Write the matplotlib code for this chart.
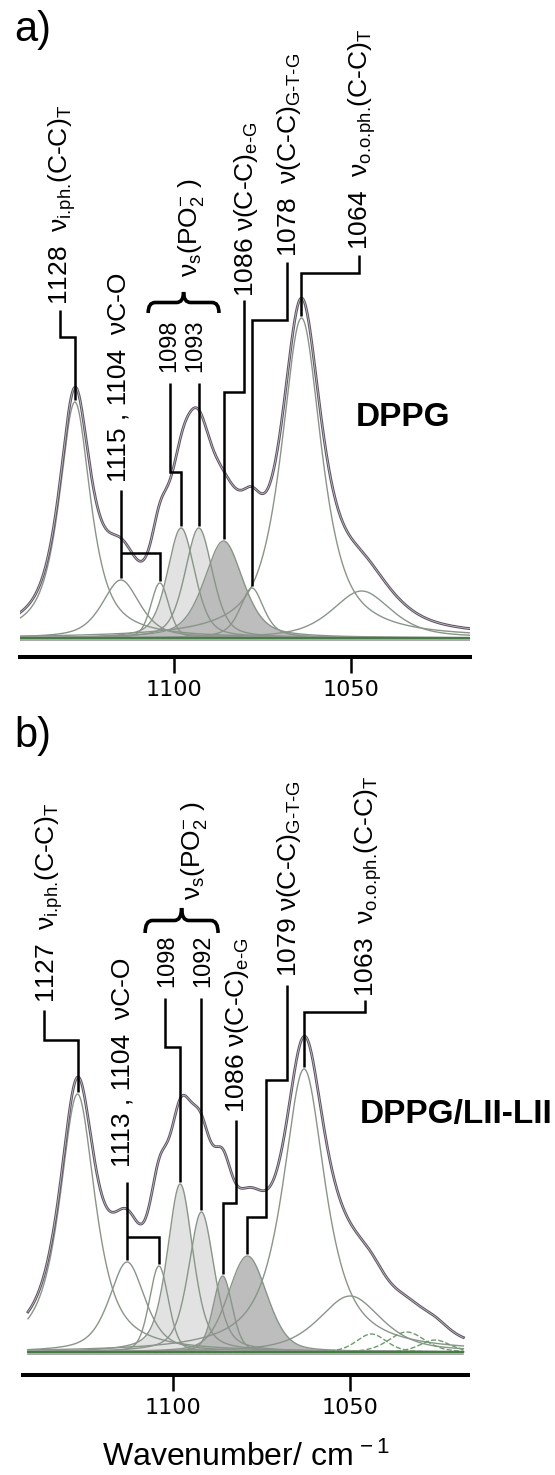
import numpy as np
import matplotlib
matplotlib.use('Agg')
import matplotlib.pyplot as plt
from matplotlib.path import Path
from matplotlib.patches import PathPatch

plt.rcParams['font.family'] = ['Liberation Sans', 'DejaVu Sans']
plt.rcParams['mathtext.fontset'] = 'custom'
plt.rcParams['mathtext.rm'] = 'Liberation Sans'
plt.rcParams['mathtext.it'] = 'Liberation Sans:italic'
plt.rcParams['mathtext.bf'] = 'Liberation Sans:bold'

# fitted bands, panel a (DPPG)
centers_a = [1128, 1115, 1104, 1098, 1093, 1086, 1078, 1064, 1047]
heights_a = [236, 58, 55, 110, 110, 97, 50, 320, 47]
hwhm_a = [5.3, 6.3, 3.0, 4.6, 4.6, 6.5, 4.0, 6.8, 10.0]
lorentz_a = [0.8, 0.6, 0.3, 0.45, 0.45, 0.5, 0.6, 0.8, 0.6]

# fitted bands, panel b (DPPG/LII-LII)
centers_b = [1127, 1113, 1104, 1098, 1092, 1086, 1079, 1063, 1050, 1044, 1034, 1026]
heights_b = [258, 90, 86, 168, 140, 76, 96, 283, 56, 18, 20, 12]
hwhm_b = [6.0, 6.0, 3.2, 4.3, 4.3, 3.2, 6.5, 7.2, 10.5, 5.0, 6.0, 5.0]
lorentz_b = [0.8, 0.6, 0.3, 0.5, 0.5, 0.3, 0.3, 0.85, 0.6, 0.3, 0.3, 0.3]

ticks = [1100, 1050]
labels_a = ['1128  ν$_{\\text{i.ph.}}$(C-C)$_{\\text{T}}$',
            '1115 , 1104  νC-O',
            '1098', '1093',
            'ν$_{\\text{s}}$(PO$_2^{-}$ )',
            '1086 ν(C-C)$_{\\text{e-G}}$',
            '1078  ν(C-C)$_{\\text{G-T-G}}$',
            '1064  ν$_{\\text{o.o.ph.}}$(C-C)$_{\\text{T}}$']
labels_b = ['1127  ν$_{\\text{i.ph.}}$(C-C)$_{\\text{T}}$',
            '1113 , 1104  νC-O',
            '1098', '1092',
            'ν$_{\\text{s}}$(PO$_2^{-}$ )',
            '1086 ν(C-C)$_{\\text{e-G}}$',
            '1079 ν(C-C)$_{\\text{G-T-G}}$',
            '1063  ν$_{\\text{o.o.ph.}}$(C-C)$_{\\text{T}}$']

W, H = 555, 1475
LINE = '#8a958a'
LIGHT = '#e2e2e2'
DARK = '#bababa'


def band(x, c, h, w, eta):
    u = ((x - c) / w) ** 2
    return h * (eta / (1 + u) + (1 - eta) * np.exp(-np.log(2) * u))


def brace(ax, xl, xr, yb, yt):
    ym = (yb + yt) / 2
    xs = lambda t: xl + t * (xr - xl)
    verts = [(xs(0), yb), (xs(0), ym), (xs(0.1), ym), (xs(0.4), ym),
             (xs(0.5), ym), (xs(0.5), yt), (xs(0.5), ym), (xs(0.6), ym),
             (xs(0.9), ym), (xs(1), ym), (xs(1), yb)]
    codes = [Path.MOVETO, Path.CURVE3, Path.CURVE3, Path.LINETO,
             Path.CURVE3, Path.CURVE3, Path.CURVE3, Path.CURVE3,
             Path.LINETO, Path.CURVE3, Path.CURVE3]
    ax.add_patch(PathPatch(Path(verts, codes), fill=False, lw=2.6, color='black',
                           clip_on=False, zorder=6))


def panel(ax, x, centers, heights, widths, etas, light, dark, dashed):
    comps = {}
    for c, h, w, e in zip(centers, heights, widths, etas):
        comps[c] = band(x, c, h, w, e)
    total = sum(comps.values())

    for c in light:
        ax.fill_between(x, 0, comps[c], color=LIGHT, lw=0, zorder=1)
    for c in dark:
        ax.fill_between(x, 0, comps[c], color=DARK, lw=0, alpha=0.95, zorder=2)
    for c, y in comps.items():
        if c in dashed:
            ax.plot(x, y, color='#6f9a6f', lw=1.0, ls='--', zorder=3)
        else:
            ax.plot(x, y, color=LINE, lw=1.0, zorder=3)
    ax.plot(x, np.zeros_like(x) - 1.5, color='#9a9a9a', lw=1.2, zorder=3)
    ax.plot(x, np.zeros_like(x), color='#3d7a3d', lw=1.3, zorder=3)
    ax.plot(x, total, color='#5e5662', lw=2.0, zorder=4)
    ax.plot(x, total, color='#cfc6d2', lw=0.5, zorder=4)

    for s in ['top', 'left', 'right']:
        ax.spines[s].set_visible(False)
    ax.spines['bottom'].set_linewidth(2.9)
    ax.set_yticks([])
    ax.set_xticks(ticks)
    ax.tick_params(axis='x', direction='out', length=11.5, width=1.8,
                   labelsize=16, pad=5)
    for t in ax.get_xticklabels():
        t.set_fontfamily('DejaVu Sans')
    ax.patch.set_alpha(0)
    return comps


def leaders(ax, heights_by_c, paths):
    for peak, pts in paths:
        end = (peak, heights_by_c[peak] + 2)
        xs = [p[0] for p in pts] + [end[0]]
        ys = [p[1] for p in pts] + [end[1]]
        ax.plot(xs, ys, color='black', lw=1.8, solid_capstyle='butt',
                solid_joinstyle='miter', zorder=5, clip_on=False)


def rot_labels(ax, spots, texts):
    for (xw, yh, fs), s in zip(spots, texts):
        ax.text(xw, yh, s, rotation=90, rotation_mode='anchor', ha='left',
                va='baseline', fontsize=fs, zorder=6)


fig = plt.figure(figsize=(W / 100, H / 100), dpi=100)

# panel a
ax_a = fig.add_axes([20 / W, 1 - 657 / H, 450 / W, 657 / H])
ax_a.set_xlim(1143.5, 1016.4)
ax_a.set_ylim(-19, 638)
xa = np.linspace(1143.5, 1016.4, 900)
panel(ax_a, xa, centers_a, heights_a, hwhm_a, lorentz_a,
      light=[1098, 1093], dark=[1086], dashed=[])
leaders(ax_a, dict(zip(centers_a, heights_a)), [
    (1128, [(1132.2, 328), (1132.2, 301), (1128, 301)]),
    (1115, [(1115, 148)]),
    (1104, [(1115, 85), (1104, 85)]),
    (1098, [(1101.1, 255), (1101.1, 166), (1098, 166)]),
    (1093, [(1093, 255)]),
    (1086, [(1080.2, 338), (1080.2, 246), (1086, 246)]),
    (1078, [(1068, 376), (1068, 318), (1078, 318)]),
    (1064, [(1047.7, 383), (1047.7, 365), (1064, 365)]),
])
rot_labels(ax_a, [(1130.1, 333, 19), (1113.6, 156, 19), (1099.7, 266, 17),
                  (1092.2, 266, 17), (1093.6, 361, 19), (1077.7, 341, 19),
                  (1065.6, 381, 19), (1045.2, 388, 19)], labels_a)
brace(ax_a, 1107.3, 1087.3, 325, 346)

# panel b
ax_b = fig.add_axes([23 / W, 1 - 1375 / H, 445 / W, 675 / H])
ax_b.set_xlim(1142.4, 1016.7)
ax_b.set_ylim(-23, 652)
xb = np.linspace(1141.0, 1018.0, 900)
panel(ax_b, xb, centers_b, heights_b, hwhm_b, lorentz_b,
      light=[1098, 1092], dark=[1086, 1079], dashed=[1044, 1034, 1026])
leaders(ax_b, dict(zip(centers_b, heights_b)), [
    (1127, [(1136.4, 342), (1136.4, 312), (1127, 312)]),
    (1113, [(1113, 170)]),
    (1104, [(1113, 115), (1104, 115)]),
    (1098, [(1102.4, 354), (1102.4, 305), (1098, 305)]),
    (1092, [(1092, 354)]),
    (1086, [(1082.1, 232), (1082.1, 149), (1086, 149)]),
    (1079, [(1067.7, 367), (1067.7, 272), (1073.8, 272), (1073.8, 135), (1079, 135)]),
    (1063, [(1045.9, 352), (1045.9, 340), (1063, 340)]),
])
rot_labels(ax_b, [(1133.4, 349, 19), (1112.4, 185, 19), (1099.9, 365, 17),
                  (1089.9, 365, 17), (1092.4, 452, 19), (1079.9, 239, 19),
                  (1065.4, 375, 19), (1043.4, 355, 19)], labels_b)
brace(ax_b, 1107.9, 1087.3, 419, 444)

# panel letters, sample names, axis title
fig.text(14 / W, 1 - 10 / H, 'a)', fontsize=30, ha='left', va='top')
fig.text(14 / W, 1 - 716 / H, 'b)', fontsize=30, ha='left', va='top')
fig.text(356 / W, 1 - 417 / H, 'DPPG', fontsize=24, fontweight='bold',
         ha='left', va='center')
fig.text(360 / W, 1 - 1115 / H, 'DPPG/LII-LII', fontsize=24, fontweight='bold',
         ha='left', va='center')
fig.text(246 / W, 1 - 1457 / H, 'Wavenumber/ cm$^{\\,-1}$', fontsize=23,
         ha='center', va='center')

fig.savefig('out.png', dpi=100)
